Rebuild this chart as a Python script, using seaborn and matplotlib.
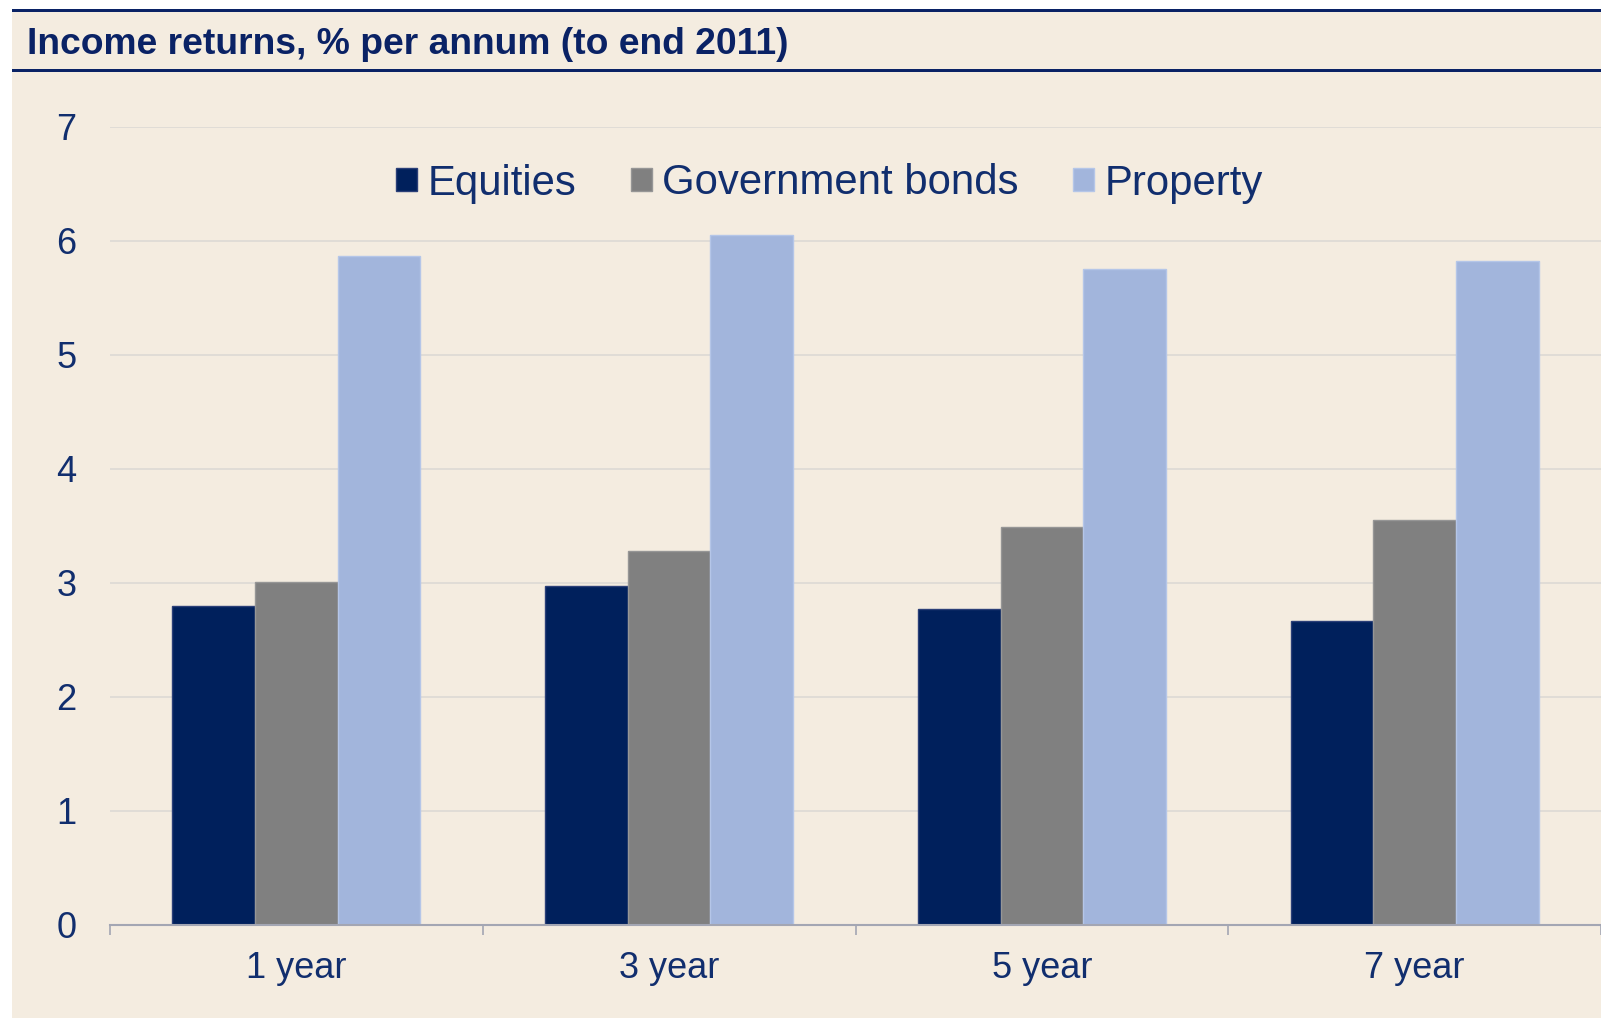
import matplotlib
matplotlib.use("Agg")
import matplotlib.pyplot as plt
import matplotlib.patches as mpatches
import seaborn as sns
import pandas as pd
from matplotlib.ticker import FixedLocator, NullFormatter

# ---------------- data ----------------
periods = ["1 year", "3 year", "5 year", "7 year"]
series_names = ["Equities", "Government bonds", "Property"]
equities = [2.80, 2.97, 2.77, 2.67]
gov_bonds = [3.01, 3.28, 3.49, 3.55]
property_ = [5.87, 6.05, 5.75, 5.82]
y_ticks = [0, 1, 2, 3, 4, 5, 6, 7]
title_text = "Income returns, % per annum (to end 2011)"

df = pd.DataFrame({
    "period": periods * 3,
    "series": [series_names[0]] * 4 + [series_names[1]] * 4 + [series_names[2]] * 4,
    "value": equities + gov_bonds + property_,
})

# ---------------- style ----------------
W, H = 1601, 1018
DPI = 100
BEIGE = "#F4ECE0"
NAVY = "#0A2265"
TICK_COL = "#112E6E"
palette = {"Equities": "#00205C", "Government bonds": "#808080", "Property": "#A2B5DC"}
edges = {"Equities": "#2B3F78", "Government bonds": "#969696", "Property": "#B5C6E8"}

sns.set_theme(style="white")
plt.rcParams["font.family"] = ["Liberation Sans", "DejaVu Sans"]

fig = plt.figure(figsize=(W / DPI, H / DPI), dpi=DPI)
fig.patch.set_facecolor("white")

def fx(px):
    return px / W

def fy(py):
    return 1 - py / H

# beige panel
fig.add_artist(mpatches.Rectangle((fx(12), 0.0), 1 - fx(12), fy(9.3) - 0.0,
                                  transform=fig.transFigure, facecolor=BEIGE,
                                  edgecolor="none", zorder=0))
# title rules
for top_px, bot_px in [(9.3, 12.0), (68.7, 71.7)]:
    fig.add_artist(mpatches.Rectangle((fx(12), fy(bot_px)), 1 - fx(12), fy(top_px) - fy(bot_px),
                                      transform=fig.transFigure, facecolor=NAVY,
                                      edgecolor="none", zorder=1))
fig.text(fx(27), fy(54), title_text, fontsize=26.8, fontweight="bold",
         color=NAVY, ha="left", va="baseline")

ax = fig.add_axes([fx(110), fy(925), 1 - fx(110), fy(126.7) - fy(925)])
ax.set_facecolor("none")

sns.barplot(data=df, x="period", y="value", hue="series", order=periods,
            hue_order=series_names, palette=palette, width=0.665, gap=0,
            saturation=1, ax=ax, zorder=3)

# bar edges
for cont, name in zip(ax.containers, series_names):
    for bar in cont:
        bar.set_edgecolor(edges[name])
        bar.set_linewidth(1.0)

ax.set_xlim(-0.5, 3.5)
ax.set_ylim(0, 7)
ax.set_yticks(y_ticks)
ax.set_xlabel("")
ax.set_ylabel("")

for s in ["top", "right", "left"]:
    ax.spines[s].set_visible(False)
ax.spines["bottom"].set_color("#A3A6B3")
ax.spines["bottom"].set_linewidth(1.5)
ax.spines["bottom"].set_zorder(4)

ax.yaxis.grid(True, color="#DEDBD5", linewidth=1.3, zorder=0)
ax.xaxis.grid(False)
ax.set_axisbelow(True)

ax.tick_params(axis="y", length=0, pad=24, labelsize=26, labelcolor=TICK_COL)
ax.tick_params(axis="x", which="major", length=0, pad=19, labelsize=26, labelcolor=TICK_COL)
ax.xaxis.set_minor_locator(FixedLocator([-0.5, 0.5, 1.5, 2.5, 3.5]))
ax.xaxis.set_minor_formatter(NullFormatter())
ax.tick_params(axis="x", which="minor", bottom=True, length=7.2, width=1.2,
               color="#A3A6B3", direction="out")

# legend
handles, labels = ax.get_legend_handles_labels()
if ax.get_legend() is not None:
    ax.get_legend().remove()
for h, name in zip(handles, labels):
    h.set_edgecolor(edges[name])
leg = fig.legend(handles, labels, loc="center", bbox_to_anchor=(fx(829.5), fy(183.5)),
                 ncol=3, frameon=False, fontsize=30.2, handlelength=0.5,
                 handleheight=0.49, handletextpad=0.25, columnspacing=1.3,
                 borderpad=0, borderaxespad=0)
for t in leg.get_texts():
    t.set_color(TICK_COL)

fig.savefig("out.png", dpi=DPI, facecolor=fig.get_facecolor())
